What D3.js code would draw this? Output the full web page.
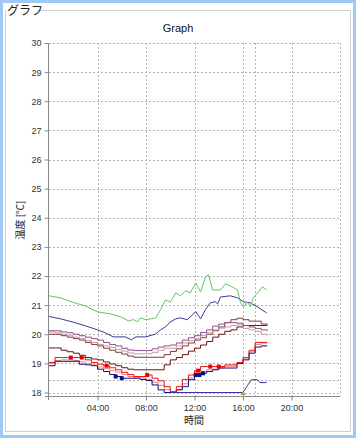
<!DOCTYPE html>
<html><head><meta charset="utf-8">
<script src="https://cdn.jsdelivr.net/npm/d3@7"></script>
<style>body{margin:0;background:#fff}svg{display:block;font-family:"Liberation Sans",Arial,sans-serif}</style>
</head><body><svg id="c" width="357" height="439"></svg>
<script>
const hours = [0,0.5,1,1.5,2,2.5,3,3.5,4,4.5,5,5.5,6,6.5,7,7.5,8,8.5,9,9.5,10,10.5,11,11.5,12,12.5,13,13.5,14,14.5,15,15.5,16,16.5,17,17.5,18];
const xTickHours = [4,8,12,16,20];
const xTickLabels = ["04:00","08:00","12:00","16:00","20:00"];
const yTicks = [18,19,20,21,22,23,24,25,26,27,28,29,30];

const greenHours = [0,0.95,1.95,3,4,5.05,5.9,6.55,6.95,7.3,7.55,8,8.8,9.2,9.6,10,10.45,10.85,11.25,11.65,12.1,12.5,12.9,13.15,13.5,14.15,14.55,14.95,15.55,15.8,16.05,16.35,16.6,16.85,17.3,17.6,17.95];
const greenVals  = [21.32,21.25,21.1,20.97,20.77,20.7,20.6,20.46,20.5,20.43,20.56,20.5,20.56,20.84,21.18,21.1,21.42,21.32,21.49,21.42,21.76,21.45,21.97,22.04,21.52,21.52,21.73,21.66,21.52,21.08,20.94,21.11,20.94,21.25,21.46,21.63,21.52];

const blueHours = [0,0.95,1.95,3,4,4.65,5.3,6.3,6.8,7.15,8,8.8,9.2,9.6,10,10.45,10.85,11.4,11.67,12.1,12.5,12.9,13.3,13.7,13.9,14.15,14.95,15.55,16.05,16.6,17.2,17.95];
const blueVals  = [20.61,20.53,20.42,20.29,20.15,20.05,19.91,19.91,19.81,19.91,19.91,20.01,20.15,20.25,20.42,20.53,20.56,20.5,20.6,20.78,20.53,20.84,21.08,21.12,21.04,21.28,21.32,21.25,21.11,21.08,20.94,20.73];

const m1Vals = [20.12,20.12,20.08,20.05,20.0,19.95,19.9,19.85,19.8,19.72,19.65,19.6,19.52,19.46,19.44,19.44,19.44,19.5,19.56,19.6,19.63,19.7,19.8,19.88,19.95,20.06,20.15,20.28,20.35,20.4,20.4,20.38,20.3,20.25,20.2,20.15,20.1];
const m2Vals = [20.08,20.05,20.0,19.95,19.9,19.85,19.78,19.72,19.65,19.6,19.55,19.48,19.42,19.36,19.33,19.33,19.33,19.38,19.45,19.52,19.52,19.6,19.7,19.78,19.85,19.95,20.05,20.15,20.21,20.25,20.3,20.32,20.2,20.15,20.1,20.0,19.95];
const m3Vals = [20.0,20.0,19.95,19.9,19.85,19.8,19.72,19.65,19.6,19.52,19.45,19.38,19.32,19.25,19.21,19.21,19.21,19.21,19.21,19.3,19.41,19.5,19.6,19.7,19.8,19.88,20.0,20.12,20.25,20.4,20.5,20.55,20.5,20.45,20.45,20.35,20.32];
const m4Vals = [19.53,19.53,19.45,19.4,19.35,19.28,19.2,19.15,19.12,19.05,18.98,18.92,18.85,18.8,18.78,18.78,18.78,18.78,18.78,18.95,19.12,19.2,19.3,19.42,19.52,19.63,19.75,19.9,20.0,20.1,20.15,20.25,20.3,20.3,20.3,20.3,20.3];
const redVals  = [19.03,19.2,19.2,19.2,19.2,19.2,19.12,19.03,18.97,18.92,18.85,18.78,18.69,18.62,18.55,18.55,18.6,18.49,18.4,18.2,18.03,18.2,18.45,18.6,18.75,18.89,18.89,18.89,18.89,18.95,18.95,19.03,19.2,19.45,19.72,19.72,19.72];
const pinkVals = [19.0,19.1,19.12,19.12,19.1,19.05,19.0,18.95,18.88,18.82,18.75,18.7,18.62,18.55,18.5,18.5,18.45,18.35,18.25,18.1,18.0,18.1,18.3,18.5,18.62,18.72,18.78,18.8,18.85,18.9,18.9,19.0,19.15,19.4,19.65,19.7,19.7];
const navyVals = [18.92,19.07,19.07,19.07,19.07,18.97,18.95,18.92,18.8,18.72,18.62,18.55,18.49,18.49,18.49,18.45,18.41,18.26,18.09,18.0,18.0,18.09,18.2,18.44,18.6,18.66,18.72,18.78,18.84,18.84,18.84,19.0,19.12,19.35,19.56,19.6,19.6];

const lowHours = [10,12,14,16,16.3,16.7,17.2,17.4,17.95];
const lowVals  = [18.0,18.0,18.0,18.0,18.2,18.44,18.44,18.34,18.34];

const redMarkHours = [1.8,2.7,4.75,8.1,12.3,13.3,14.0];
const navyMarkHours = [5.5,6.0,12.1,12.4,12.7];
const limitTemp = 18.44;
const nowHour = 17.0;

const svg = d3.select("#c");
svg.append("rect").attr("x",1.5).attr("y",1.5).attr("width",353).attr("height",435)
  .attr("fill","none").attr("stroke","#9fc9f3").attr("stroke-width",3);
svg.append("rect").attr("x",5.5).attr("y",10.5).attr("width",345).attr("height",421)
  .attr("fill","none").attr("stroke","#cfcfcf").attr("stroke-width",1);
svg.append("rect").attr("x",6).attr("y",4).attr("width",32).attr("height",14).attr("fill","#fff");
svg.append("text").attr("x",7).attr("y",15).attr("font-size",12).attr("fill","#222")
  .attr("font-family","'Noto Sans CJK JP',sans-serif").text("グラフ");

svg.append("text").attr("x",178).attr("y",32).attr("text-anchor","middle").attr("font-size",11).attr("fill","#111").text("Graph");

const L=49, R=340, T=43, B=396;
const x = d3.scaleLinear().domain([0,24]).range([L,R]);
const y = d3.scaleLinear().domain([17.88,30]).range([B,T]);

const gridC = "#b4b4b4";
const g = svg.append("g");
g.selectAll(".hg").data(yTicks).join("line")
  .attr("x1",L).attr("x2",R).attr("y1",d=>Math.round(y(d))+0.5).attr("y2",d=>Math.round(y(d))+0.5)
  .attr("stroke",gridC).attr("stroke-width",1).attr("stroke-dasharray","2,2");
g.selectAll(".vg").data(xTickHours.concat([24])).join("line")
  .attr("y1",T).attr("y2",B).attr("x1",d=>Math.round(x(d))+0.5).attr("x2",d=>Math.round(x(d))+0.5)
  .attr("stroke",gridC).attr("stroke-width",1).attr("stroke-dasharray","2,2");
g.append("line").attr("x1",L).attr("x2",R).attr("y1",Math.round(y(limitTemp))+0.5).attr("y2",Math.round(y(limitTemp))+0.5)
  .attr("stroke",gridC).attr("stroke-dasharray","2,2");
g.append("line").attr("y1",T).attr("y2",B).attr("x1",Math.round(x(nowHour))+0.5).attr("x2",Math.round(x(nowHour))+0.5)
  .attr("stroke",gridC).attr("stroke-dasharray","2,2");

const yAxis = d3.axisLeft(y).tickValues(yTicks).tickSize(4).tickPadding(3);
const ya = svg.append("g").attr("transform",`translate(${L-0.5},0)`).call(yAxis);
ya.select(".domain").attr("stroke","#888").attr("d",`M0,${T}V${B+4}`);
ya.selectAll(".tick line").attr("stroke","#888");
ya.selectAll("text").attr("font-size",9).attr("fill","#333").attr("font-family","'Liberation Sans',Arial,sans-serif");

const xAxis = d3.axisBottom(x).tickValues(xTickHours).tickFormat((d,i)=>xTickLabels[i]).tickSize(4).tickPadding(4);
const xa = svg.append("g").attr("transform",`translate(0,${B+0.5})`).call(xAxis);
xa.select(".domain").attr("stroke","#888").attr("d",`M${L-4},0H${R}`);
xa.selectAll(".tick line").attr("stroke","#888");
xa.selectAll("text").attr("font-size",9).attr("fill","#333").attr("font-family","'Liberation Sans',Arial,sans-serif");

svg.append("text").attr("x",194).attr("y",424).attr("text-anchor","middle").attr("font-size",10)
  .attr("font-family","'Noto Sans CJK JP',sans-serif").attr("fill","#222").text("時間");
svg.append("text").attr("transform","translate(24,220) rotate(-90)").attr("text-anchor","middle").attr("font-size",10)
  .attr("font-family","'Noto Sans CJK JP',sans-serif").attr("fill","#222").text("温度 [℃]");

svg.append("clipPath").attr("id","pc").append("rect").attr("x",L).attr("y",T).attr("width",R-L).attr("height",B-T-1);
const plot = svg.append("g").attr("clip-path","url(#pc)");

function draw(hs, vs, color, curve){
  const pts = hs.map((h,i)=>[h,vs[i]]);
  plot.append("path").datum(pts).attr("fill","none").attr("stroke",color).attr("stroke-width",1)
    .attr("d", d3.line().x(d=>x(d[0])).y(d=>y(d[1])).curve(curve)(pts));
}
draw(hours, m4Vals, "#6a1010", d3.curveStepAfter);
draw(hours, m3Vals, "#7a3a3a", d3.curveStepAfter);
draw(hours, m2Vals, "#c99aa6", d3.curveStepAfter);
draw(hours, m1Vals, "#8e4f8e", d3.curveStepAfter);
draw(hours, pinkVals, "#e28484", d3.curveStepAfter);
draw(hours, navyVals, "#101080", d3.curveStepAfter);
draw(hours, redVals, "#ee1111", d3.curveStepAfter);
draw(lowHours, lowVals, "#3333a0", d3.curveLinear);
draw(blueHours, blueVals, "#3a3a9a", d3.curveLinear);
draw(greenHours, greenVals, "#5fc85f", d3.curveLinear);

const stepVal = (vals,h)=>vals[Math.min(vals.length-1,Math.floor(h/0.5))];
plot.selectAll(".rm").data(redMarkHours).join("rect")
  .attr("x",d=>x(d)-2).attr("y",d=>y(stepVal(redVals,d))-2).attr("width",4).attr("height",4).attr("fill","#ee0000");
plot.selectAll(".nm").data(navyMarkHours).join("rect")
  .attr("x",d=>x(d)-2).attr("y",d=>y(stepVal(navyVals,d))-2).attr("width",4).attr("height",4).attr("fill","#101080");
plot.append("path").attr("d",`M${x(16)-3},${y(17.9)}L${x(16)},${y(18.05)}L${x(16)+3},${y(17.9)}Z`).attr("fill","#b0a030");
</script></body></html>
